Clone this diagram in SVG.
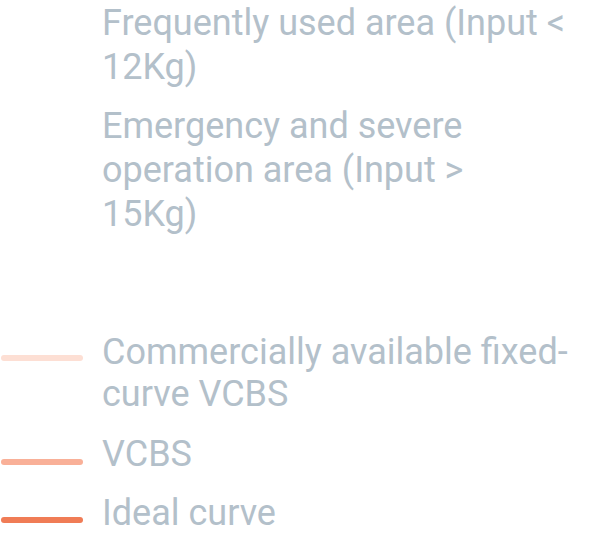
<svg xmlns="http://www.w3.org/2000/svg" width="607" height="536" viewBox="0 0 607 536">
<style>
text{font-family:Roboto,"Noto Sans",sans-serif;font-size:36px;fill:#b3c0ca}
.ln{stroke-width:6;stroke-linecap:round;fill:none}
</style>
<rect width="607" height="536" fill="#ffffff"/>
<g id="item-frequent">
<text x="102" y="35">Frequently used area (Input &lt;</text>
<text x="102" y="79">12Kg)</text>
</g>
<g id="item-emergency">
<text x="102" y="138">Emergency and severe</text>
<text x="102" y="182">operation area (Input &gt;</text>
<text x="102" y="226">15Kg)</text>
</g>
<g id="item-commercial">
<line class="ln" x1="4" y1="358" x2="80" y2="358" stroke="#fddfd4"/>
<text x="102" y="364">Commercially available fixed-</text>
<text x="102" y="406">curve VCBS</text>
</g>
<g id="item-vcbs">
<line class="ln" x1="4" y1="462" x2="80" y2="462" stroke="#f9b098"/>
<text x="102" y="466">VCBS</text>
</g>
<g id="item-ideal">
<line class="ln" x1="4" y1="520" x2="80" y2="520" stroke="#f07c56"/>
<text x="102" y="525">Ideal curve</text>
</g>
</svg>
